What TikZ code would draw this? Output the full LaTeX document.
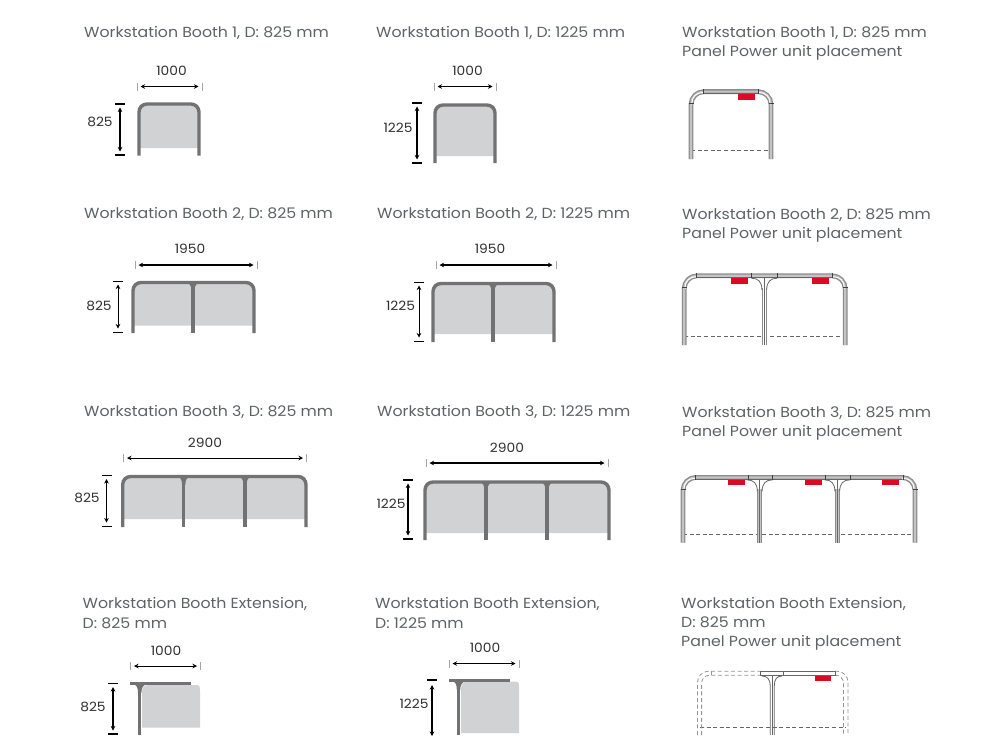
\documentclass[tikz,border=0pt]{standalone}
\usepackage{fontspec}
\setmainfont[FakeStretch=1.08]{Poppins}
\usetikzlibrary{arrows.meta}
\definecolor{txt}{HTML}{5E6367}
\definecolor{dimtxt}{HTML}{303030}
\definecolor{frame}{HTML}{727272}
\definecolor{panelfill}{HTML}{D1D2D4}
\definecolor{tubedark}{HTML}{8C8C8C}
\definecolor{tubelight}{HTML}{C4C4C4}
\definecolor{unitred}{HTML}{DC0A23}
\tikzset{
  title/.style={anchor=base west,inner sep=0pt,text=txt,font=\fontsize{14.6}{17}\selectfont},
  dimlabel/.style={anchor=center,inner sep=0pt,yshift=-0.5pt,text=dimtxt,font=\fontsize{12.8}{15}\selectfont},
  framestroke/.style={draw=frame,line width=3.4pt},
  dimarrow/.style={draw=black,line width=1pt,{Stealth[length=4.5pt,width=4.5pt]}-{Stealth[length=4.5pt,width=4.5pt]}},
  vdimarrow/.style={draw=black,line width=1.6pt,{Stealth[length=4.5pt,width=4.5pt]}-{Stealth[length=4.5pt,width=4.5pt]}},
  tickl/.style={draw=gray!70,line width=.8pt},
  tickv/.style={draw=black,line width=1.6pt},
  thindim/.style={vdimarrow/.append style={line width=1pt},tickv/.append style={line width=1pt}},
  thickh/.style={dimarrow/.append style={line width=1.4pt}},
  tubeouter/.style={draw=tubedark,line width=4.8pt},
  tubeinner/.style={draw=tubelight,line width=2.2pt},
  tubecentre/.style={draw=white,line width=2.6pt},
  tubemark/.style={draw=black!75,line width=.7pt},
  thinline/.style={draw=black!60,line width=.8pt},
  hiddenline/.style={draw=black!60,line width=.7pt,dash pattern=on 4pt off 2.6pt},
  ghostline/.style={draw=black!42,line width=.8pt,dash pattern=on 4pt off 2.6pt},
  redunit/.style={fill=unitred,draw=none},
}
% horizontal dimension: name, xl, xr, y, label, labelx, labely
\newcommand{\hdim}[7]{%
  \coordinate (#1a) at (#2+3.5,#4); \coordinate (#1b) at (#3-3.5,#4);
  \draw[tickl] (#2,#4-4) -- (#2,#4+4); \draw[tickl] (#3,#4-4) -- (#3,#4+4);
  \draw[dimarrow] (#1a) -- (#1b);
  \node[dimlabel] (#1l) at (#6,#7) {#5};}
% vertical dimension: name, x, yt, yb, label, labelx, labely
\newcommand{\vdim}[7]{%
  \coordinate (#1a) at (#2,#3+3.5); \coordinate (#1b) at (#2,#4-3.5);
  \draw[tickv] (#2-5,#3) -- (#2+5,#3); \draw[tickv] (#2-5,#4) -- (#2+5,#4);
  \draw[vdimarrow] (#1a) -- (#1b);
  \node[dimlabel] (#1l) at (#6,#7) {#5};}
% booth: l, r, top, bottom, fillbottom, mids
\newcommand{\booth}[6]{%
  \fill[panelfill] (#1,#5) -- (#1,#3+7) .. controls (#1,#3) and (#1,#3) .. (#1+7,#3) -- (#2-7,#3) .. controls (#2,#3) and (#2,#3) .. (#2,#3+7) -- (#2,#5) -- cycle;
  \foreach \m in {#6}{%
    \fill[frame] (\m-7,#3) .. controls (\m-3,#3+1) and (\m-1.7,#3+3) .. (\m-1.7,#3+8) -- (\m+1.7,#3+8) .. controls (\m+1.7,#3+3) and (\m+3,#3+1) .. (\m+7,#3) -- cycle;
    \draw[framestroke] (\m,#3) -- (\m,#4);}
  \draw[framestroke,rounded corners=8pt] (#1,#4) -- (#1,#3) -- (#2,#3) -- (#2,#4);}
% panel plan: l, r, top, bottom, dashedy, mids, ticks
\newcommand{\panelframe}[7]{%
  \draw[hiddenline] (#1,#5) -- (#2,#5);
  \draw[tubeouter,rounded corners=13pt] (#1,#4) -- (#1,#3) -- (#2,#3) -- (#2,#4);
  \draw[tubeinner,rounded corners=13pt] (#1,#4) -- (#1,#3) -- (#2,#3) -- (#2,#4);
  \draw[draw=white,line width=.9pt,rounded corners=10pt] (#1+1,#3+13) -- (#1+1,#3+1) -- (#1+13,#3+1);
  \draw[draw=white,line width=.9pt,rounded corners=10pt] (#2-13,#3+1) -- (#2-1,#3+1) -- (#2-1,#3+13);
  \draw[thinline] (#1+13,#3+1.8) -- (#2-13,#3+1.8);
  \foreach \m in {#6}{%
    \draw[tubeouter] (\m,#3+12) -- (\m,#4);
    \draw[tubecentre] (\m,#3+12) -- (\m,#4);
    \draw[thinline] (\m-13,#3+2.4) .. controls (\m-6,#3+2.4) and (\m-2.4,#3+6) .. (\m-2.4,#3+14);
    \draw[thinline] (\m+13,#3+2.4) .. controls (\m+6,#3+2.4) and (\m+2.4,#3+6) .. (\m+2.4,#3+14);
    \draw[thinline] (\m,#3+2) -- (\m,#4);}
  \foreach \k in {#7}{\draw[tubemark] (\k,#3-2.4) -- (\k,#3+2.4);}
  \draw[tubemark] (#1-2.5,#3+12) -- (#1+2.5,#3+12);
  \draw[tubemark] (#2-2.5,#3+12) -- (#2+2.5,#3+12);}
\begin{document}
\begin{tikzpicture}[x=1pt,y=-1pt]
\useasboundingbox (0,0) rectangle (1000,750);
\fill[white] (0,0) rectangle (1000,750);
% titles
\node[title] (t11) at (84,37) {Workstation Booth 1, D: 825 mm};
\node[title] (t12) at (376,37) {Workstation Booth 1, D: 1225 mm};
\node[title] (t13) at (682,37) {Workstation Booth 1, D: 825 mm};
\node[title] (t13b) at (682,56) {Panel Power unit placement};
\node[title] (t21) at (84,218) {Workstation Booth 2, D: 825 mm};
\node[title] (t22) at (377,218) {Workstation Booth 2, D: 1225 mm};
\node[title] (t23) at (682,219) {Workstation Booth 2, D: 825 mm};
\node[title] (t23b) at (682,238) {Panel Power unit placement};
\node[title] (t31) at (84,416) {Workstation Booth 3, D: 825 mm};
\node[title] (t32) at (377,416) {Workstation Booth 3, D: 1225 mm};
\node[title] (t33) at (682,417) {Workstation Booth 3, D: 825 mm};
\node[title] (t33b) at (682,436) {Panel Power unit placement};
\node[title] (t41) at (82.5,608) {Workstation Booth Extension,};
\node[title] (t41b) at (82.5,628) {D: 825 mm};
\node[title] (t42) at (375,608) {Workstation Booth Extension,};
\node[title] (t42b) at (375,628) {D: 1225 mm};
\node[title] (t43) at (681,608) {Workstation Booth Extension,};
\node[title] (t43b) at (681,627) {D: 825 mm};
\node[title] (t43c) at (681,646) {Panel Power unit placement};
% front views
\booth{139}{199}{104}{155.5}{148}{}
\hdim{d11h}{137}{202}{86.5}{1000}{171.5}{70.5}
\vdim{d11v}{120}{104}{155}{825}{100}{121}
\booth{435}{495}{105}{163}{156}{}
\hdim{d12h}{434}{496}{86.5}{1000}{467.5}{70.5}
\vdim{d12v}{417}{103}{163}{1225}{398}{127}
\begin{scope}[thindim,thickh]
\booth{133}{254}{282.5}{333}{325.5}{193}
\hdim{d21h}{135}{257}{265}{1950}{190}{248}
\vdim{d21v}{118}{281}{332}{825}{99}{305}
\booth{433}{554}{283.5}{342}{334}{493}
\hdim{d22h}{436}{556}{265}{1950}{490}{248}
\vdim{d22v}{419}{282}{341}{1225}{400.5}{305}
\end{scope}
\begin{scope}[thindim]
\booth{122.7}{306}{476.5}{527}{519}{183.7,245}
\hdim{d31h}{123.5}{306.5}{458}{2900}{205}{442}
\vdim{d31v}{106.5}{475.5}{526}{825}{87}{497.5}
\end{scope}
\begin{scope}[thickh]
\booth{425}{609}{482}{540}{533}{486,547}
\hdim{d32h}{426}{608}{463}{2900}{507}{447}
\vdim{d32v}{408}{480}{539}{1225}{391}{503}
\end{scope}
% extension front views
\fill[panelfill] (142,727.7) -- (142,685) -- (193,685) .. controls (200,685) and (200,685) .. (200,692) -- (200,727.7) -- cycle;
\fill[white] (141,684.9) rectangle (147,691);
\fill[panelfill] (142,692) .. controls (142,688) and (144,685.5) .. (148,685) -- (148,692) -- cycle;
\fill[frame] (133,684) .. controls (137,685) and (138,688) .. (138,693) -- (141.4,693) .. controls (141.4,688) and (143,685) .. (147,684) -- cycle;
\draw[framestroke,line width=3pt] (130,683.5) -- (191,683.5);
\draw[framestroke] (139.7,683) -- (139.7,735);
\hdim{d41h}{130.5}{200.5}{666}{1000}{166}{650}
\vdim{d41v}{113}{683.5}{734}{825}{93}{706}
\fill[panelfill] (461,733) -- (461,681.5) -- (512,681.5) .. controls (519,681.5) and (519,681.5) .. (519,688.5) -- (519,733) -- cycle;
\fill[white] (460,681.4) rectangle (466,688);
\fill[panelfill] (461,689) .. controls (461,685) and (463,682) .. (467,681.5) -- (467,689) -- cycle;
\fill[frame] (452,681) .. controls (456,682) and (456.8,685) .. (456.8,690) -- (460.2,690) .. controls (460.2,685) and (462,682) .. (466,681) -- cycle;
\draw[framestroke,line width=3pt] (449,680.5) -- (510,680.5);
\draw[framestroke] (458.5,680) -- (458.5,735);
\coordinate (d42ha) at (452.5,663.5); \coordinate (d42hb) at (515.5,663.5);
\draw[tickl] (449,659.5) -- (449,667.5); \draw[tickl] (519,659.5) -- (519,667.5);
\draw[dimarrow] (d42ha) -- (d42hb);
\node[dimlabel] (d42hl) at (485,647) {1000};
\coordinate (d42va) at (432,685); \coordinate (d42vb) at (432,736);
\draw[tickv] (427,680) -- (437,680);
\draw[vdimarrow] (d42va) -- (d42vb);
\node[dimlabel] (d42vl) at (414,703) {1225};
% panel plans
\panelframe{691}{771}{91.6}{159}{150.5}{}{703.5,758}
\fill[redunit] (738,94.3) rectangle (755,99.7);
\panelframe{684.2}{845.2}{275.8}{345}{336}{764.3}{696,751,777.5,832.5}
\fill[redunit] (731,278.2) rectangle (748,283.6);
\fill[redunit] (811.5,278.2) rectangle (829,283.6);
\begin{scope}[tubecentre/.append style={draw=tubelight}]
\panelframe{683}{915}{477.4}{542.7}{534.3}{759.7,837.3}{695,748,772,825,850,903}
\end{scope}
\fill[redunit] (728,480) rectangle (745,485.2);
\fill[redunit] (805,480) rectangle (822,485.2);
\fill[redunit] (882,480) rectangle (899,485.2);
% extension panel plan
\draw[hiddenline] (700,727.3) -- (846,727.3);
\draw[ghostline,rounded corners=11pt] (697.5,735) -- (697.5,671.2) -- (760.7,671.2);
\draw[ghostline,rounded corners=8pt] (701.6,735) -- (701.6,675.2) -- (760.7,675.2);
\draw[ghostline,rounded corners=11pt] (835,671.2) -- (848,671.2) -- (848,735);
\draw[ghostline,rounded corners=8pt] (835,675.2) -- (843.5,675.2) -- (843.5,735);
\draw[ghostline] (711,671.2) -- (711,675.2);
\draw[thinline] (760.7,671.2) -- (835,671.2);
\draw[thinline] (760.7,675.2) -- (835,675.2);
\draw[thinline] (760.7,670.5) -- (760.7,676);
\draw[thinline] (783.8,670.5) -- (783.8,676);
\draw[thinline] (835,670.5) -- (835,676);
\draw[thinline] (762,676) .. controls (767,676) and (770.3,679) .. (770.3,686) -- (770.3,735);
\draw[thinline] (782,676) .. controls (777,676) and (774.3,679) .. (774.3,686) -- (774.3,735);
\draw[thinline] (772.3,675.2) -- (772.3,735);
\fill[redunit] (815,675.6) rectangle (831,681);
\end{tikzpicture}
\end{document}
